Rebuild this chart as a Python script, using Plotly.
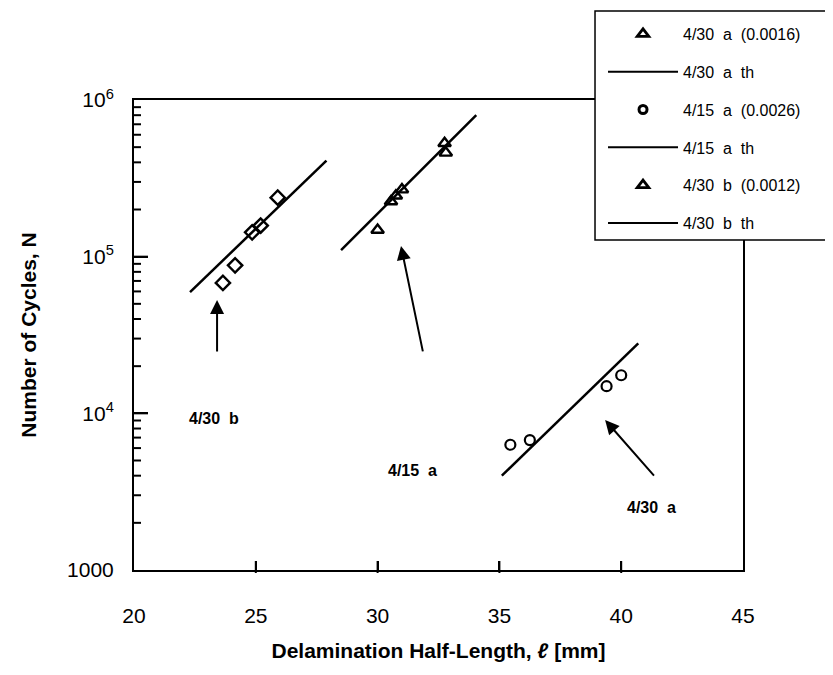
import math
import plotly.graph_objects as go

# ---- data ----
# 4/30 a specimen (circles in plot)
a430_x = [35.45, 36.25, 39.4, 40.0]
a430_N = [6300, 6750, 14900, 17500]
a430_th_x = [35.1, 40.7]
a430_th_N = [4000, 28000]

# 4/15 a specimen (triangles in plot)
a415_x = [30.0, 30.55, 30.75, 31.0, 32.75, 32.8]
a415_N = [148000, 225000, 245000, 268000, 530000, 460000]
a415_th_x = [28.5, 34.05]
a415_th_N = [110000, 800000]

# 4/30 b specimen (diamonds in plot)
b430_x = [23.65, 24.15, 24.85, 25.2, 25.9]
b430_N = [68000, 88000, 143000, 158000, 238000]
b430_th_x = [22.3, 27.9]
b430_th_N = [59400, 410000]

legend_names = ["4/30\u00a0 a\u00a0 (0.0016)", "4/30\u00a0 a\u00a0 th",
                "4/15\u00a0 a\u00a0 (0.0026)", "4/15\u00a0 a\u00a0 th",
                "4/30\u00a0 b\u00a0 (0.0012)", "4/30\u00a0 b\u00a0 th"]

x_ticks = [20, 25, 30, 35, 40, 45]
y_ticks = [1000, 10000, 100000, 1000000]
y_ticktext = ["1000", "10<sup>4</sup>", "10<sup>5</sup>", "10<sup>6</sup>"]
y_minor = [m * 10 ** e for e in (3, 4, 5) for m in range(2, 10)]

FONT = "Liberation Sans, Arial, sans-serif"
X_RANGE = [20, 45]
Y_RANGE = [3, 6]          # log10 of N
PLOT_W, PLOT_H = 609, 470  # plot-area size in px

fig = go.Figure()

# data traces (plotted marks)
fig.add_trace(go.Scatter(x=a430_x, y=a430_N, mode="markers", showlegend=False,
                         marker=dict(symbol="circle-open", size=10, color="black",
                                     line=dict(width=2.2, color="black"))))
fig.add_trace(go.Scatter(x=a430_th_x, y=a430_th_N, mode="lines", showlegend=False,
                         line=dict(color="black", width=2.5)))
fig.add_trace(go.Scatter(x=a415_x, y=a415_N, mode="markers", showlegend=False,
                         marker=dict(symbol="triangle-up-open", size=11, color="black",
                                     line=dict(width=2.4, color="black"))))
fig.add_trace(go.Scatter(x=a415_th_x, y=a415_th_N, mode="lines", showlegend=False,
                         line=dict(color="black", width=2.5)))
fig.add_trace(go.Scatter(x=b430_x, y=b430_N, mode="markers", showlegend=False,
                         marker=dict(symbol="diamond-open", size=11, color="black",
                                     line=dict(width=2.4, color="black"))))
fig.add_trace(go.Scatter(x=b430_th_x, y=b430_th_N, mode="lines", showlegend=False,
                         line=dict(color="black", width=2.5)))

# legend entries (as drawn in the reference legend)
leg_styles = [
    dict(mode="markers", marker=dict(symbol="triangle-up-open", size=10, color="black",
                                     line=dict(width=2.8, color="black"))),
    dict(mode="lines", line=dict(color="black", width=2)),
    dict(mode="markers", marker=dict(symbol="circle-open", size=8, color="black",
                                     line=dict(width=3, color="black"))),
    dict(mode="lines", line=dict(color="black", width=2)),
    dict(mode="markers", marker=dict(symbol="triangle-up-open", size=10, color="black",
                                     line=dict(width=2.8, color="black"))),
    dict(mode="lines", line=dict(color="black", width=2)),
]
for i, (name, st) in enumerate(zip(legend_names, leg_styles)):
    fig.add_trace(go.Scatter(x=[None], y=[None], name=name, legendgroup=f"g{i}", **st))

# arrows + labels
arrows = [
    # label, head x, head N, tail x, tail N, label x, label N
    ("4/30\u00a0\u00a0b", 23.41, 52800, 23.41, 24300, 23.3, 9300),
    ("4/15\u00a0\u00a0a", 30.96, 117000, 31.87, 24300, 31.45, 4300),
    ("4/30\u00a0\u00a0a", 39.34, 9060, 41.4, 3920, 41.25, 2500),
]
for lab, hx, hy, tx, ty, lx, ly in arrows:
    fig.add_annotation(x=hx, y=math.log10(hy), ax=tx, ay=math.log10(ty),
                       xref="x", yref="y", axref="x", ayref="y",
                       showarrow=True, arrowhead=2, arrowsize=1.4, arrowwidth=2,
                       arrowcolor="black", text="")
    fig.add_annotation(x=lx, y=math.log10(ly), xref="x", yref="y", text=lab,
                       showarrow=False,
                       font=dict(family=FONT, size=16, color="black", weight="bold"))

# tick marks drawn inside the frame (bottom and left axes only)
def xfrac(v):
    return (v - X_RANGE[0]) / (X_RANGE[1] - X_RANGE[0])

def yfrac(v):
    return (math.log10(v) - Y_RANGE[0]) / (Y_RANGE[1] - Y_RANGE[0])

for v in x_ticks[1:-1]:
    fig.add_shape(type="line", xref="paper", yref="paper",
                  x0=xfrac(v), x1=xfrac(v), y0=-3 / PLOT_H, y1=9 / PLOT_H,
                  line=dict(color="black", width=2), layer="above")
for v in y_ticks[1:-1]:
    fig.add_shape(type="line", xref="paper", yref="paper",
                  x0=0, x1=14 / PLOT_W, y0=yfrac(v), y1=yfrac(v),
                  line=dict(color="black", width=2), layer="above")
for v in y_minor:
    fig.add_shape(type="line", xref="paper", yref="paper",
                  x0=0, x1=7 / PLOT_W, y0=yfrac(v), y1=yfrac(v),
                  line=dict(color="black", width=2), layer="above")

# legend frame (extends past the right edge as in the reference)
fig.add_shape(type="rect", xref="paper", yref="paper",
              x0=0.757, x1=1.18, y0=(562 - 232) / 470, y1=(562 - 3) / 470,
              fillcolor="white", line=dict(color="black", width=1.5), layer="above")

fig.update_xaxes(range=X_RANGE, tickvals=x_ticks, ticks="inside", ticklen=9,
                 tickwidth=2, tickcolor="black", showline=True, linewidth=2,
                 linecolor="black", mirror=True, showgrid=False, zeroline=False,
                 ticklabelstandoff=26,
                 tickfont=dict(family=FONT, size=21, color="black"),
                 title=dict(text="Delamination Half-Length, <i>ℓ</i> [mm]",
                            font=dict(family=FONT, size=21, color="black", weight="bold"),
                            standoff=17))
fig.update_yaxes(type="log", range=Y_RANGE, tickvals=y_ticks, ticktext=y_ticktext,
                 ticks="inside", ticklen=14, tickwidth=2, tickcolor="black",
                 showline=True, linewidth=2, linecolor="black", mirror=True,
                 showgrid=False, zeroline=False, ticklabelstandoff=14,
                 tickfont=dict(family=FONT, size=21, color="black"),
                 title=dict(text="Number of Cycles, N",
                            font=dict(family=FONT, size=21, color="black", weight="bold"),
                            standoff=25))

fig.update_layout(
    width=833, height=675,
    margin=dict(l=126, r=98, t=92, b=113, autoexpand=False),
    plot_bgcolor="white", paper_bgcolor="white",
    legend=dict(x=0.757, y=(562 - 9) / 470, xanchor="left", yanchor="top",
                bgcolor="rgba(0,0,0,0)", borderwidth=0,
                font=dict(family=FONT, size=16, color="black"),
                traceorder="grouped", tracegroupgap=14, itemwidth=70,
                indentation=8),
)

fig.write_html("out.html")
